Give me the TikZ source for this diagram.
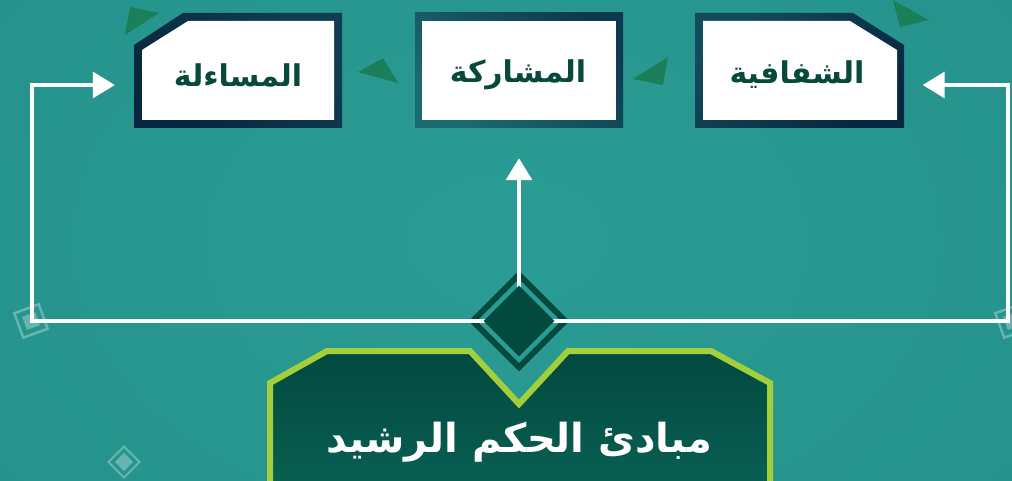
\documentclass[tikz,border=0pt]{standalone}
\usepackage{fontspec}
\newfontfamily\arabicfont[Script=Arabic]{DejaVu Sans}
\TeXXeTstate=1
\usetikzlibrary{arrows.meta,shapes.geometric,calc}

\definecolor{bgA}{HTML}{2A9C94}
\definecolor{bgB}{HTML}{24908A}
\definecolor{navy}{HTML}{07263F}
\definecolor{navyteal}{HTML}{1B6A72}
\definecolor{boxtext}{HTML}{07493A}
\definecolor{leaf}{HTML}{1B7F5A}
\definecolor{hubdark}{HTML}{024A3D}
\definecolor{lime}{HTML}{A3CF3A}
\definecolor{titleA}{HTML}{02493F}
\definecolor{titleB}{HTML}{0A6054}

\tikzset{
  boxarea/.style={draw=none, minimum width=208pt, minimum height=115pt, inner sep=0pt},
  boxlabel/.style={text=boxtext, font=\arabicfont\bfseries\fontsize{30}{34}\selectfont, inner sep=0pt},
  conn/.style={draw=white, line width=3.2pt, -{Triangle[length=22pt,width=26pt]}},
  leafmark/.style={fill=leaf},
  ghost/.style={draw=white, draw opacity=0.3, line width=2.5pt},
  ghostfill/.style={fill=white, fill opacity=0.3},
}

\begin{document}
\begin{tikzpicture}[x=1pt, y=-1pt]
  % background
  \useasboundingbox (0,0) rectangle (1012,481);
  \shade[inner color=bgA, outer color=bgB] (-300,-300) rectangle (1312,781);

  % faint decorative squares
  \begin{scope}[shift={(31,321)}, rotate=20]
    \draw[ghost] (-13,-13) rectangle (13,13);
    \fill[ghostfill] (-7,-7) rectangle (7,7);
  \end{scope}
  \begin{scope}[shift={(1012,321)}, rotate=20]
    \draw[ghost] (-13,-13) rectangle (13,13);
    \fill[ghostfill] (-7,-7) rectangle (7,7);
  \end{scope}
  \begin{scope}[shift={(124,462)}, rotate=45]
    \draw[ghost, line width=2pt] (-11,-11) rectangle (11,11);
    \fill[ghostfill] (-6.5,-6.5) rectangle (6.5,6.5);
  \end{scope}

  % green leaf triangles
  \fill[leafmark] (125,35) -- (130,7) -- (159,13) -- cycle;
  \fill[leafmark] (358,72) -- (383,58) -- (398,83) -- cycle;
  \fill[leafmark] (633,79) -- (668,57) -- (663,85) -- cycle;
  \fill[leafmark] (893,0) -- (900,27) -- (929,20) -- cycle;

  % principle boxes: shaded frame, white face
  \shade[left color=navy, right color=navy!65!navyteal, shading angle=135]
    (134,45) -- (183,13) -- (342,13) -- (342,128) -- (134,128) -- cycle;
  \fill[white] (142,50) -- (188,21) -- (334,21) -- (334,120) -- (142,120) -- cycle;

  \shade[left color=navyteal, right color=navy!70!navyteal, shading angle=135]
    (415,13) rectangle (623,128);
  \fill[white] (422,21) rectangle (616,120);

  \shade[left color=navyteal!55!navy, right color=navy, shading angle=45]
    (695,13) -- (853,13) -- (904,45) -- (904,128) -- (695,128) -- cycle;
  \fill[white] (703,21) -- (850,21) -- (897,50) -- (897,120) -- (703,120) -- cycle;

  \node[boxarea] (acc) at (238,70.5) {};
  \node[boxarea] (par) at (519,70.5) {};
  \node[boxarea] (tra) at (799.5,70.5) {};
  \node[boxlabel] (acct) at (238,75) {\beginR المساءلة\endR};
  \node[boxlabel] (part) at (518,75) {\beginR المشاركة\endR};
  \node[boxlabel] (trat) at (797,75) {\beginR الشفافية\endR};

  % title panel
  \fill[top color=titleA, bottom color=titleB]
    (270,383) -- (327,351) -- (470,351) -- (519,404) -- (568,351) -- (711,351) -- (770,383) -- (770,490) -- (270,490) -- cycle;
  \draw[lime, line width=6pt, line join=miter]
    (270,495) -- (270,383) -- (327,351) -- (470,351) -- (519,404) -- (568,351) -- (711,351) -- (770,383) -- (770,495);
  \node[text=white, font=\arabicfont\bfseries\fontsize{40}{46}\selectfont, inner sep=0pt] (title) at (519,442)
    {\beginR مبادئ الحكم الرشيد\endR};

  % hub diamond
  \node[diamond, fill=hubdark, minimum width=101pt, minimum height=101pt, inner sep=0pt] (hubout) at (519,321) {};
  \node[diamond, fill=bgA, minimum width=84pt, minimum height=84pt, inner sep=0pt] (hubring) at (519,321) {};

  % connectors
  \coordinate (lc) at (32,85);
  \coordinate (rc) at (1008,85);
  \draw[conn, shorten >=19pt] (hubring.center) -| (lc) -- (lc -| acc.west);
  \draw[conn, shorten >=19pt] (hubring.center) -| (rc) -- (rc -| tra.east);
  \draw[conn, shorten >=30pt] (hubring.center) -- (par.south);

  \node[diamond, fill=hubdark, minimum width=71pt, minimum height=71pt, inner sep=0pt] (hub) at (519,321) {};
\end{tikzpicture}
\end{document}
